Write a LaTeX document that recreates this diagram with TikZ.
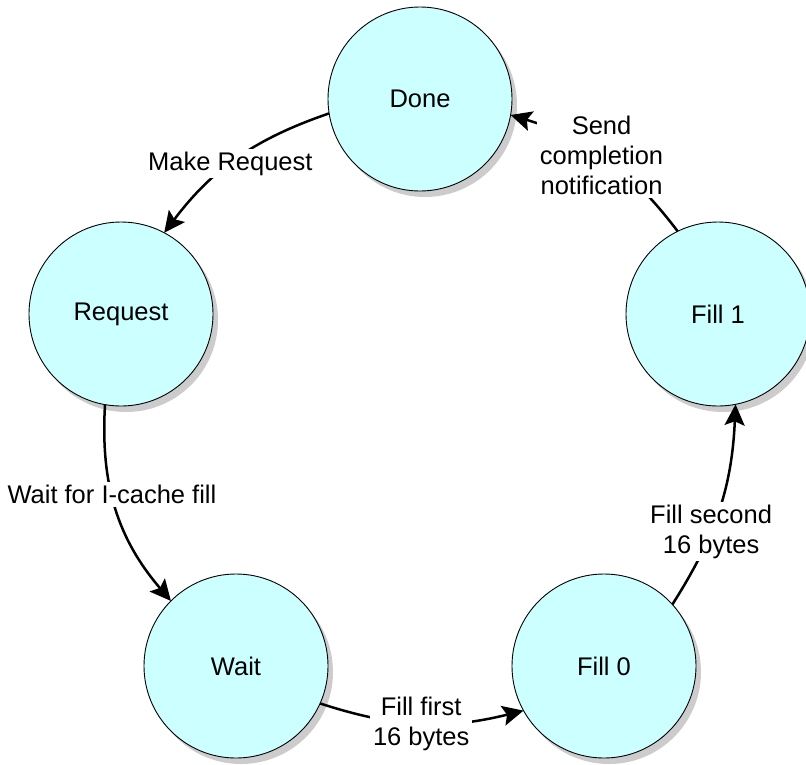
\documentclass[tikz,border=0pt]{standalone}
\usepackage{fontspec}
\setmainfont{Liberation Sans}
\usetikzlibrary{arrows.meta,shadows}
\definecolor{statefill}{HTML}{CCFFFF}
\definecolor{shadowgray}{HTML}{CCCCCC}
\begin{document}
\begin{tikzpicture}[x=1pt,y=-1pt,
  every node/.style={font=\fontsize{25.5}{30}\selectfont},
  state/.style={circle,draw=black,line width=0.9pt,fill=statefill,
    minimum size=184pt,inner sep=0pt,outer sep=0pt,
    drop shadow={shadow xshift=5pt,shadow yshift=-6pt,fill=shadowgray,opacity=1}},
  trans/.style={line width=2.5pt,-{Stealth[length=21pt,width=20pt,inset=4pt]}},
  lab/.style={fill=white,inner sep=3pt,align=center}]
\useasboundingbox (0,0) rectangle (806,764);
\clip (0,0) rectangle (806,764);

% states
\node[state] (done)    at (420,99)  {Done};
\node[state] (request) at (121,314) {Request};
\node[state] (fillone) at (718,314) {Fill 1};
\node[state] (wait)    at (236,666) {Wait};
\node[state] (fillzero) at (604,666) {Fill 0};

% transitions
\draw[trans] (done.189) to[bend right=17]
  node[lab,pos=0.54] {Make Request} (request.62);
\draw[trans] (request.-100) to[bend right=22]
  node[lab,pos=0.42] {Wait for I-cache fill} (wait.135);
\draw[trans] (wait.-24) to[bend right=16]
  node[lab,pos=0.5] {Fill first\\16 bytes} (fillzero.-151);
\draw[trans] (fillzero.42) to[bend right=15]
  node[lab,pos=0.38] {Fill second\\16 bytes} (fillone.-79);
\draw[trans] (fillone.116) to[bend right=18]
  node[lab,pos=0.52] {Send\\completion\\notification} (done.-10);
\end{tikzpicture}
\end{document}
